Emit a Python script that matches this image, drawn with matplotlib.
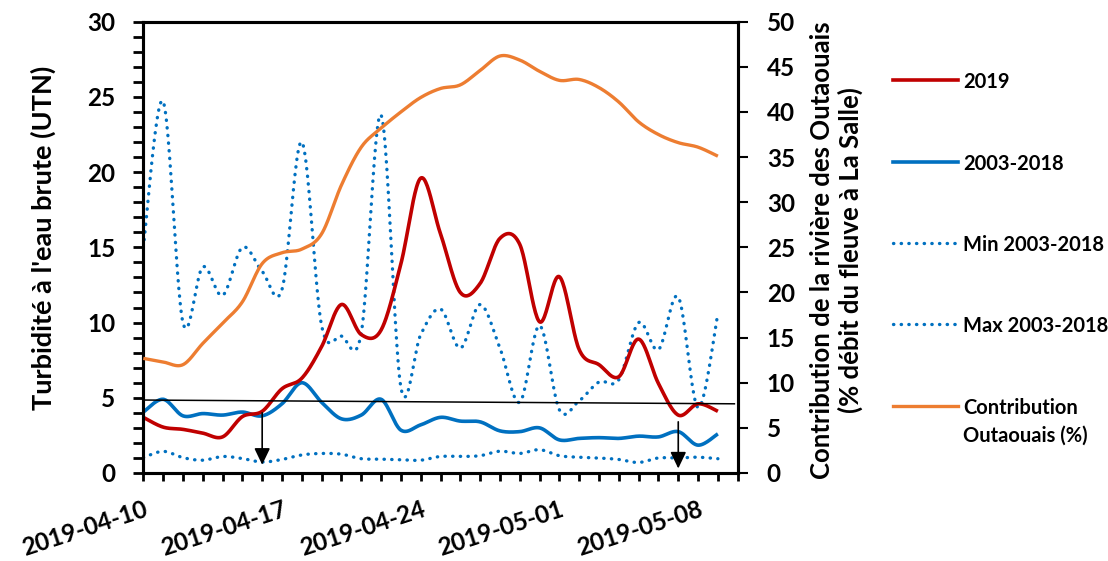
import numpy as np
import pandas as pd
import matplotlib
matplotlib.use("Agg")
import matplotlib.pyplot as plt
import matplotlib.dates as mdates
from matplotlib.lines import Line2D
from matplotlib.ticker import MultipleLocator

plt.rcParams['font.family'] = ['Lato', 'DejaVu Sans']
plt.rcParams['font.weight'] = 'bold'

# ---------------- data ----------------
dates = pd.date_range("2019-04-10", "2019-05-09", freq="D")

turb_2019 = [3.7, 3.05, 2.9, 2.65, 2.4, 3.75, 4.1, 5.6, 6.3, 8.4,
             11.2, 9.2, 9.5, 13.9, 19.6, 15.9, 12.0, 12.6, 15.6, 15.2,
             10.05, 13.05, 8.2, 7.2, 6.4, 8.9, 5.95, 3.85, 4.6, 4.1]

turb_2003_2018 = [4.05, 4.9, 3.8, 3.95, 3.85, 4.05, 3.8, 4.6, 6.0, 4.7,
                  3.6, 3.85, 4.9, 2.85, 3.2, 3.7, 3.45, 3.4, 2.8, 2.75,
                  3.0, 2.2, 2.3, 2.35, 2.3, 2.45, 2.4, 2.75, 1.85, 2.6]

turb_min = [1.02, 1.44, 1.02, 0.85, 1.1, 0.96, 0.73, 0.9, 1.2, 1.3,
            1.25, 0.95, 0.92, 0.88, 0.85, 1.1, 1.1, 1.15, 1.45, 1.3,
            1.55, 1.15, 1.05, 1.0, 0.9, 0.7, 1.0, 1.0, 1.05, 0.95]

turb_max = [15.0, 24.7, 10.0, 13.7, 11.8, 15.0, 13.4, 12.2, 22.0, 9.8,
            9.1, 9.3, 23.8, 5.7, 9.2, 10.9, 8.3, 11.2, 8.3, 4.7,
            9.8, 4.2, 4.8, 6.05, 6.2, 10.0, 8.2, 11.7, 4.35, 10.6]

contrib_outaouais = [12.7, 12.3, 12.0, 14.35, 16.6, 18.96, 23.2, 24.4, 24.8, 26.5,
                     31.9, 36.1, 38.2, 40.0, 41.6, 42.6, 43.0, 44.6, 46.2, 45.75,
                     44.5, 43.5, 43.6, 42.7, 41.1, 38.9, 37.5, 36.6, 36.1, 35.1]

threshold_dates = ["2019-04-10 00:00", "2019-05-09 20:00"]
threshold_values = [4.85, 4.6]

arrow_dates = ["2019-04-16", "2019-05-07"]
arrow_top = [4.0, 3.4]
arrow_tip = [0.55, 0.3]

xtick_dates = ["2019-04-10", "2019-04-17", "2019-04-24", "2019-05-01", "2019-05-08"]
x_limits = ["2019-04-10", "2019-05-10"]

labels = ["2019", "2003-2018", "Min 2003-2018", "Max 2003-2018",
          "Contribution\nOutaouais (%)"]

RED = "#C00000"
BLUE = "#0070C0"
ORANGE = "#ED7D31"


def smooth(x, y, n=24):
    """Excel-like smoothed line (cubic Bezier, Catmull-Rom control points)."""
    x = np.asarray(x, float)
    y = np.asarray(y, float)
    P = np.column_stack([x, y])
    Pe = np.vstack([P[0], P, P[-1]])
    out = []
    t = np.linspace(0, 1, n, endpoint=False)[:, None]
    for i in range(len(P) - 1):
        p0 = Pe[i + 1]
        p3 = Pe[i + 2]
        c1 = p0 + (Pe[i + 2] - Pe[i]) / 6.0
        c2 = p3 - (Pe[i + 3] - Pe[i + 1]) / 6.0
        seg = ((1 - t) ** 3) * p0 + 3 * ((1 - t) ** 2) * t * c1 + 3 * (1 - t) * t ** 2 * c2 + t ** 3 * p3
        out.append(seg)
    out.append(P[-1][None, :])
    out = np.vstack(out)
    return out[:, 0], out[:, 1]


W, H = 1108, 561
fig = plt.figure(figsize=(W / 100, H / 100), dpi=100)
ax_l, ax_r, ax_t, ax_b = 143.3, 737.7, 21.7, 473.0
ax = fig.add_axes([ax_l / W, 1 - ax_b / H, (ax_r - ax_l) / W, (ax_b - ax_t) / H])
ax2 = ax.twinx()

xnum = mdates.date2num(dates)

dot_style = dict(linestyle=(0, (0.1, 2.2)), dash_capstyle='round', lw=2.4, color=BLUE)

xs, ys = smooth(xnum, turb_min)
ax.plot(xs, ys, **dot_style, zorder=2)
xs, ys = smooth(xnum, turb_max)
ax.plot(xs, ys, **dot_style, zorder=2)
xs, ys = smooth(xnum, turb_2003_2018)
ax.plot(xs, ys, color=BLUE, lw=2.6, solid_capstyle='butt', zorder=3)
xs, ys = smooth(xnum, turb_2019)
ax.plot(xs, ys, color=RED, lw=2.6, solid_capstyle='butt', zorder=4)

# threshold line
ax.plot(mdates.date2num(pd.to_datetime(threshold_dates)), threshold_values,
        color='black', lw=1.1, zorder=5)

# arrows
for d, top, tip in zip(arrow_dates, arrow_top, arrow_tip):
    xd = mdates.date2num(pd.Timestamp(d))
    ax.annotate("", xy=(xd, tip), xytext=(xd, top),
                arrowprops=dict(arrowstyle='-|>,head_length=0.5,head_width=0.24',
                                color='black', lw=1.2, mutation_scale=20,
                                shrinkA=0, shrinkB=0),
                zorder=6)

xs, ys = smooth(xnum, contrib_outaouais)
ax2.plot(xs, ys, color=ORANGE, lw=2.4, solid_capstyle='butt', zorder=3)

# axes formatting
ax.set_xlim(mdates.date2num(pd.to_datetime(x_limits)))
ax.set_ylim(0, 30)
ax2.set_ylim(0, 50)
ax.set_xticks(mdates.date2num(pd.to_datetime(xtick_dates)))
ax.set_xticklabels(xtick_dates)
ax.xaxis.set_minor_locator(mdates.DayLocator())
ax.yaxis.set_major_locator(MultipleLocator(5))
ax.yaxis.set_minor_locator(MultipleLocator(1))
ax2.yaxis.set_major_locator(MultipleLocator(5))

for spine in ax2.spines.values():
    spine.set_linewidth(2.2)
for spine in ax.spines.values():
    spine.set_linewidth(2.2)

TICK_FS = 17.5
ax.tick_params(axis='x', which='both', direction='out', length=6, width=2.0, labelsize=TICK_FS, pad=12)
ax.tick_params(axis='y', which='both', direction='out', length=7, width=2.0, labelsize=TICK_FS, pad=13)
ax2.tick_params(axis='y', which='major', direction='out', length=7, width=1.5, labelsize=TICK_FS, pad=14)

for lbl in ax.get_xticklabels():
    lbl.set_rotation(18)
    lbl.set_ha('right')
    lbl.set_va('top')
    lbl.set_rotation_mode('anchor')
    lbl.set_fontweight('bold')
for lbl in ax.get_yticklabels() + ax2.get_yticklabels():
    lbl.set_fontweight('bold')

ax.set_ylabel("Turbidité à l'eau brute (UTN)", fontsize=19.5, fontweight='bold')
ax.yaxis.set_label_coords((56 - ax_l) / (ax_r - ax_l), (ax_b - 238) / (ax_b - ax_t))
ax2.set_ylabel("Contribution de la rivière des Outaouais\n(% débit du fleuve à La Salle)",
               fontsize=18.5, fontweight='bold', linespacing=1.15)
ax2.yaxis.set_label_coords((810 - ax_l) / (ax_r - ax_l), (ax_b - 250) / (ax_b - ax_t))

# manual legend (outside, on the right)
leg_y = [80, 162, 243, 324, 406]
line_gap = 28
leg_styles = [dict(color=RED, lw=2.6),
              dict(color=BLUE, lw=2.6),
              dict(color=BLUE, lw=2.4, linestyle=(0, (0.1, 2.2)), dash_capstyle='round'),
              dict(color=BLUE, lw=2.4, linestyle=(0, (0.1, 2.2)), dash_capstyle='round'),
              dict(color=ORANGE, lw=2.4)]
for lab, yy, st in zip(labels, leg_y, leg_styles):
    fig.add_artist(Line2D([893 / W, 958 / W], [1 - yy / H, 1 - yy / H],
                          transform=fig.transFigure, **st))
    for i, part in enumerate(lab.split("\n")):
        fig.text(963 / W, 1 - (yy + i * line_gap) / H, part, fontsize=14.5,
                 fontweight='bold', ha='left', va='center_baseline')

fig.savefig("out.png", dpi=100)
